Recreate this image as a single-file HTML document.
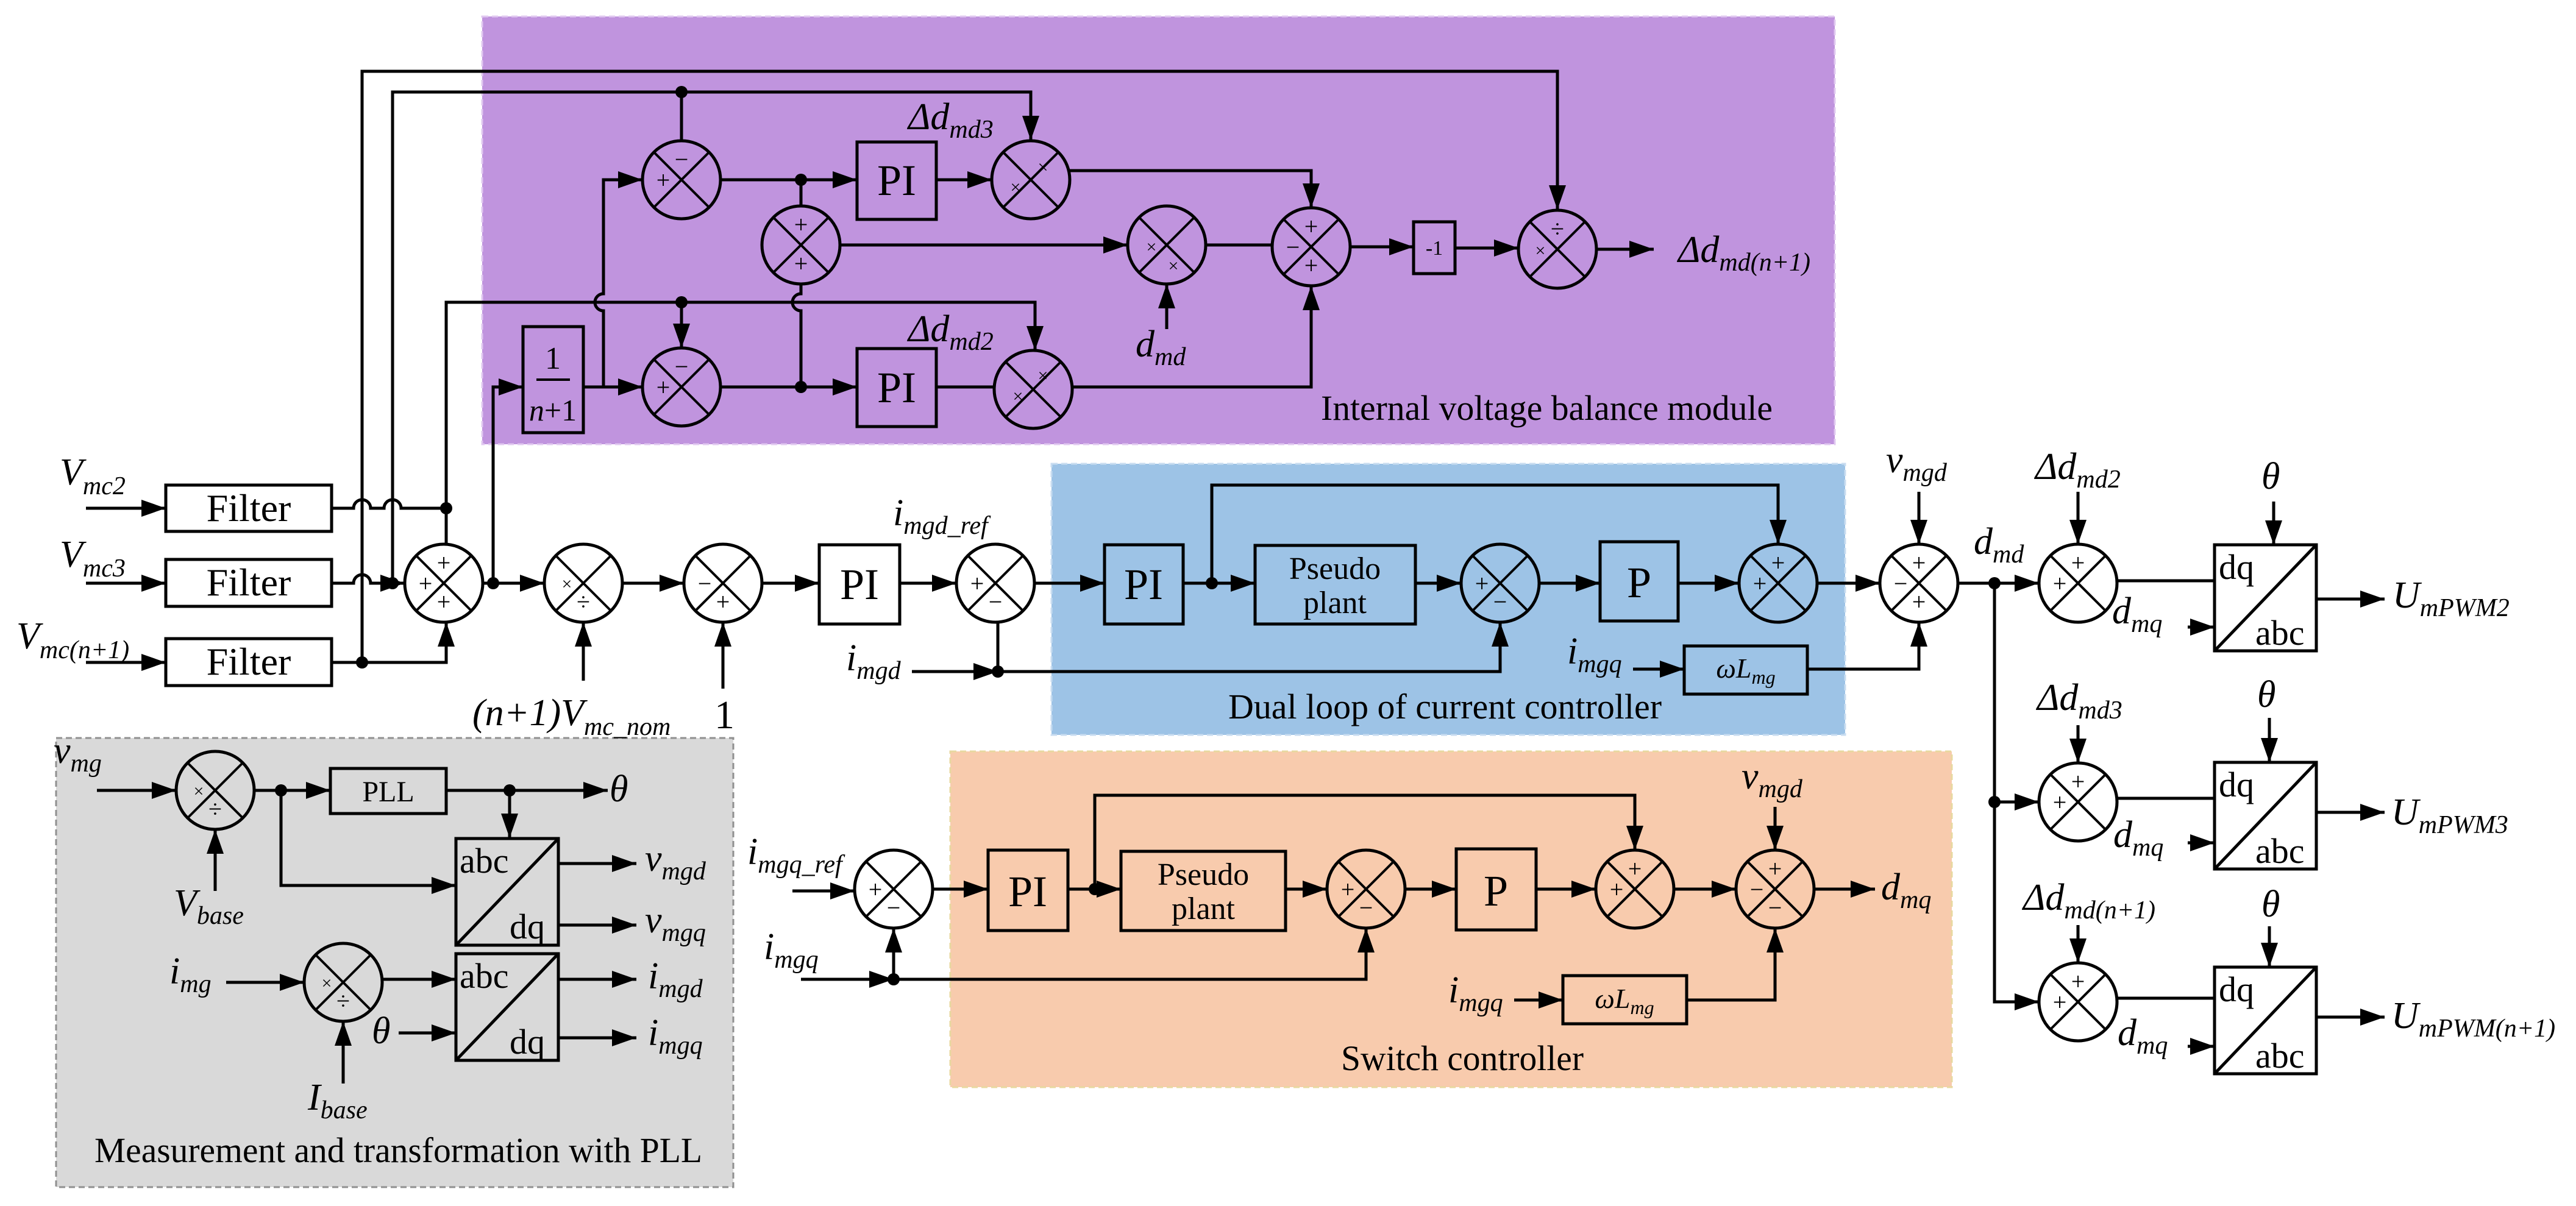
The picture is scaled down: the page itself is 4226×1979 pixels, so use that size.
<!DOCTYPE html>
<html><head><meta charset="utf-8"><style>
html,body{margin:0;padding:0;background:#fff}
svg{display:block}
text{font-family:"Liberation Serif","DejaVu Serif",serif;fill:#000}
.i{font-style:italic}
</style></head><body>
<svg width="4226" height="1979" viewBox="0 0 4226 1979" xmlns="http://www.w3.org/2000/svg" font-family="Liberation Serif, serif">
<defs>
<marker id="a" markerUnits="userSpaceOnUse" markerWidth="40" markerHeight="28" refX="40" refY="14" orient="auto"><path d="M0,0 L40,14 L0,28 z" fill="#000"/></marker>
</defs>
<rect x="791" y="27" width="2219" height="702" fill="#c094de" stroke="#e0c8f0" stroke-width="3" stroke-dasharray="10,6"/>
<rect x="1725" y="761" width="1302" height="445" fill="#9dc3e6" stroke="#c8dcf0" stroke-width="3" stroke-dasharray="10,6"/>
<rect x="1559" y="1233" width="1643" height="551" fill="#f8cbad" stroke="#e8d8a0" stroke-width="3" stroke-dasharray="10,6"/>
<rect x="92" y="1211" width="1111" height="737" fill="#d9d9d9" stroke="#909090" stroke-width="3" stroke-dasharray="10,6"/>

<g fill="none" stroke="#000" stroke-width="5">
<path d="M594,1087 V117 H2555 V344" marker-end="url(#a)"/>
<path d="M644,957 V151 H1691 V230" marker-end="url(#a)"/>
<path d="M1118,151 V231"/>
<path d="M544,834 H580 a14,14 0 0 1 28,0 H630 a14,14 0 0 1 28,0 H732"/>
<path d="M544,957 H580 a14,14 0 0 1 28,0 H664" marker-end="url(#a)"/>
<path d="M544,1087 H732 V1021" marker-end="url(#a)"/>
<path d="M732,895 V496 H1698 V575" marker-end="url(#a)"/>
<path d="M1118,496 V571" marker-end="url(#a)"/>
<path d="M792,957 H893" marker-end="url(#a)"/>
<path d="M809,957 V635 H858" marker-end="url(#a)"/>
<path d="M957,635 H1054" marker-end="url(#a)"/>
<path d="M990,635 V510 a14,14 0 0 1 0,-28 V295 H1054" marker-end="url(#a)"/>
<path d="M1182,295 H1406" marker-end="url(#a)"/>
<path d="M1314,295 V338"/>
<path d="M1536,295 H1627" marker-end="url(#a)"/>
<path d="M1182,635 H1406" marker-end="url(#a)"/>
<path d="M1314,635 V510 a14,14 0 0 1 0,-28 V466"/>
<path d="M1536,635 H1631"/>
<path d="M1378,402 H1850" marker-end="url(#a)"/>
<path d="M1914,540 V466" marker-end="url(#a)"/>
<path d="M1755,280 H2151 V341" marker-end="url(#a)"/>
<path d="M1759,635 H2151 V469" marker-end="url(#a)"/>
<path d="M1978,402 H2087"/>
<path d="M2215,405 H2319" marker-end="url(#a)"/>
<path d="M2387,407 H2491" marker-end="url(#a)"/>
<path d="M2619,409 H2713" marker-end="url(#a)"/>
<path d="M141,834 H272" marker-end="url(#a)"/>
<path d="M141,957 H272" marker-end="url(#a)"/>
<path d="M141,1087 H272" marker-end="url(#a)"/>
<path d="M1021,957 H1122" marker-end="url(#a)"/>
<path d="M957,1117 V1021" marker-end="url(#a)"/>
<path d="M1186,1130 V1021" marker-end="url(#a)"/>
<path d="M1250,957 H1344" marker-end="url(#a)"/>
<path d="M1476,957 H1569" marker-end="url(#a)"/>
<path d="M1697,957 H1812" marker-end="url(#a)"/>
<path d="M1496,1102 H1637" marker-end="url(#a)"/>
<path d="M1637,1102 V1021"/>
<path d="M1637,1102 H2461 V1021" marker-end="url(#a)"/>
<path d="M1941,957 H2059" marker-end="url(#a)"/>
<path d="M1988,957 V796 H2917 V893" marker-end="url(#a)"/>
<path d="M2322,957 H2397" marker-end="url(#a)"/>
<path d="M2525,957 H2625" marker-end="url(#a)"/>
<path d="M2753,957 H2853" marker-end="url(#a)"/>
<path d="M2981,957 H3084" marker-end="url(#a)"/>
<path d="M3148,807 V893" marker-end="url(#a)"/>
<path d="M2679,1098 H2763" marker-end="url(#a)"/>
<path d="M2965,1098 H3148 V1021" marker-end="url(#a)"/>
<path d="M3212,957 H3345" marker-end="url(#a)"/>
<path d="M3272,957 V1644 H3345" marker-end="url(#a)"/>
<path d="M3272,1316 H3345" marker-end="url(#a)"/>
<path d="M3409,807 V893" marker-end="url(#a)"/>
<path d="M3473,953 H3633"/>
<path d="M3589,1029 H3633" marker-end="url(#a)"/>
<path d="M3730,823 V894" marker-end="url(#a)"/>
<path d="M3800,983 H3912" marker-end="url(#a)"/>
<path d="M3409,1190 V1252" marker-end="url(#a)"/>
<path d="M3473,1310 H3633"/>
<path d="M3589,1383 H3633" marker-end="url(#a)"/>
<path d="M3723,1178 V1251" marker-end="url(#a)"/>
<path d="M3800,1333 H3912" marker-end="url(#a)"/>
<path d="M3409,1518 V1580" marker-end="url(#a)"/>
<path d="M3473,1638 H3633"/>
<path d="M3589,1717 H3633" marker-end="url(#a)"/>
<path d="M3723,1520 V1587" marker-end="url(#a)"/>
<path d="M3800,1669 H3912" marker-end="url(#a)"/>
<path d="M1300,1462 H1402" marker-end="url(#a)"/>
<path d="M1314,1607 H1466" marker-end="url(#a)"/>
<path d="M1466,1607 V1523" marker-end="url(#a)"/>
<path d="M1466,1607 H2241 V1523" marker-end="url(#a)"/>
<path d="M1530,1459 H1621" marker-end="url(#a)"/>
<path d="M1752,1459 H1839" marker-end="url(#a)"/>
<path d="M1796,1459 V1305 H2682 V1395" marker-end="url(#a)"/>
<path d="M2109,1459 H2177" marker-end="url(#a)"/>
<path d="M2305,1459 H2389" marker-end="url(#a)"/>
<path d="M2520,1459 H2618" marker-end="url(#a)"/>
<path d="M2746,1459 H2848" marker-end="url(#a)"/>
<path d="M2976,1459 H3076" marker-end="url(#a)"/>
<path d="M2912,1324 V1395" marker-end="url(#a)"/>
<path d="M2484,1641 H2564" marker-end="url(#a)"/>
<path d="M2767,1641 H2912 V1523" marker-end="url(#a)"/>
<path d="M159,1297 H289" marker-end="url(#a)"/>
<path d="M417,1297 H542" marker-end="url(#a)"/>
<path d="M732,1297 H997" marker-end="url(#a)"/>
<path d="M836,1297 V1375" marker-end="url(#a)"/>
<path d="M461,1297 V1453 H748" marker-end="url(#a)"/>
<path d="M916,1417 H1044" marker-end="url(#a)"/>
<path d="M916,1518 H1044" marker-end="url(#a)"/>
<path d="M353,1462 V1361" marker-end="url(#a)"/>
<path d="M371,1612 H499" marker-end="url(#a)"/>
<path d="M627,1607 H748" marker-end="url(#a)"/>
<path d="M563,1778 V1676" marker-end="url(#a)"/>
<path d="M654,1695 H748" marker-end="url(#a)"/>
<path d="M916,1607 H1044" marker-end="url(#a)"/>
<path d="M916,1703 H1044" marker-end="url(#a)"/>
</g>

<g fill="#000">
<circle cx="1118" cy="151" r="10"/><circle cx="1118" cy="496" r="10"/>
<circle cx="594" cy="1087" r="10"/><circle cx="644" cy="957" r="10"/><circle cx="732" cy="834" r="10"/>
<circle cx="809" cy="957" r="10"/><circle cx="1314" cy="295" r="10"/><circle cx="1314" cy="635" r="10"/>
<circle cx="1637" cy="1102" r="10"/><circle cx="1988" cy="957" r="10"/><circle cx="3272" cy="957" r="10"/><circle cx="3272" cy="1316" r="10"/>
<circle cx="1466" cy="1607" r="10"/><circle cx="1796" cy="1459" r="10"/>
<circle cx="461" cy="1297" r="10"/><circle cx="836" cy="1297" r="10"/>
</g>

<g fill="none" stroke="#000" stroke-width="5">
<rect x="272" y="796" width="272" height="76"/><rect x="272" y="918" width="272" height="77"/><rect x="272" y="1048" width="272" height="77"/>
<rect x="858" y="536" width="99" height="174"/>
<rect x="1406" y="233" width="130" height="127"/><rect x="1406" y="572" width="130" height="128"/>
<rect x="2319" y="364" width="68" height="85"/>
<rect x="1344" y="894" width="132" height="130"/><rect x="1812" y="894" width="129" height="130"/>
<rect x="2059" y="895" width="263" height="129"/><rect x="2625" y="889" width="128" height="130"/>
<rect x="2763" y="1060" width="202" height="79"/>
<rect x="3633" y="894" width="167" height="174"/><rect x="3633" y="1251" width="167" height="175"/><rect x="3633" y="1587" width="167" height="175"/>
<rect x="1621" y="1395" width="131" height="132"/><rect x="1839" y="1397" width="270" height="130"/>
<rect x="2389" y="1393" width="131" height="133"/><rect x="2564" y="1601" width="203" height="79"/>
<rect x="542" y="1261" width="190" height="74"/>
<rect x="748" y="1376" width="168" height="175"/><rect x="748" y="1565" width="168" height="175"/>
<path d="M3633,1068 L3800,894 M3633,1426 L3800,1251 M3633,1762 L3800,1587 M748,1551 L916,1376 M748,1740 L916,1565"/>
<path d="M880,623 H935" stroke-width="4"/>
</g>

<g fill="none" stroke="#000" stroke-width="5">
<circle cx="1118" cy="295" r="64"/><circle cx="1314" cy="402" r="64"/><circle cx="1118" cy="635" r="64"/>
<circle cx="1691" cy="295" r="64"/><circle cx="1914" cy="402" r="64"/><circle cx="1695" cy="639" r="64"/>
<circle cx="2151" cy="405" r="64"/><circle cx="2555" cy="409" r="64"/>
<circle cx="728" cy="957" r="64"/><circle cx="957" cy="957" r="64"/><circle cx="1186" cy="957" r="64"/><circle cx="1633" cy="957" r="64"/>
<circle cx="2461" cy="957" r="64"/><circle cx="2917" cy="957" r="64"/><circle cx="3148" cy="957" r="64"/><circle cx="3409" cy="957" r="64"/>
<circle cx="3409" cy="1316" r="64"/><circle cx="3409" cy="1644" r="64"/>
<circle cx="1466" cy="1459" r="64"/><circle cx="2241" cy="1459" r="64"/><circle cx="2682" cy="1459" r="64"/><circle cx="2912" cy="1459" r="64"/>
<circle cx="353" cy="1297" r="64"/><circle cx="563" cy="1612" r="64"/>
<path stroke-width="4" d="
M1073,250 l90,90 m0,-90 l-90,90
M1269,357 l90,90 m0,-90 l-90,90
M1073,590 l90,90 m0,-90 l-90,90
M1646,250 l90,90 m0,-90 l-90,90
M1869,357 l90,90 m0,-90 l-90,90
M1650,594 l90,90 m0,-90 l-90,90
M2106,360 l90,90 m0,-90 l-90,90
M2510,364 l90,90 m0,-90 l-90,90
M683,912 l90,90 m0,-90 l-90,90
M912,912 l90,90 m0,-90 l-90,90
M1141,912 l90,90 m0,-90 l-90,90
M1588,912 l90,90 m0,-90 l-90,90
M2416,912 l90,90 m0,-90 l-90,90
M2872,912 l90,90 m0,-90 l-90,90
M3103,912 l90,90 m0,-90 l-90,90
M3364,912 l90,90 m0,-90 l-90,90
M3364,1271 l90,90 m0,-90 l-90,90
M3364,1599 l90,90 m0,-90 l-90,90
M1421,1414 l90,90 m0,-90 l-90,90
M2196,1414 l90,90 m0,-90 l-90,90
M2637,1414 l90,90 m0,-90 l-90,90
M2867,1414 l90,90 m0,-90 l-90,90
M308,1252 l90,90 m0,-90 l-90,90
M518,1567 l90,90 m0,-90 l-90,90"/>
</g>

<g font-size="40" text-anchor="middle">
<text x="1118" y="275">−</text><text x="1088" y="309">+</text>
<text x="1314" y="382">+</text><text x="1314" y="446">+</text>
<text x="1118" y="615">−</text><text x="1088" y="649">+</text>
<text x="2151" y="385">+</text><text x="2121" y="419">−</text><text x="2151" y="449">+</text>
<text x="728" y="937">+</text><text x="698" y="971">+</text><text x="728" y="1001">+</text>
<text x="1156" y="971">−</text><text x="1186" y="1001">+</text>
<text x="1603" y="971">+</text><text x="1633" y="1001">−</text>
<text x="2431" y="971">+</text><text x="2461" y="1001">−</text>
<text x="2917" y="937">+</text><text x="2887" y="971">+</text>
<text x="3148" y="937">+</text><text x="3118" y="971">−</text><text x="3148" y="1001">+</text>
<text x="3409" y="937">+</text><text x="3379" y="971">+</text>
<text x="3409" y="1296">+</text><text x="3379" y="1330">+</text>
<text x="3409" y="1624">+</text><text x="3379" y="1658">+</text>
<text x="1436" y="1473">+</text><text x="1466" y="1503">−</text>
<text x="2211" y="1473">+</text><text x="2241" y="1503">−</text>
<text x="2682" y="1439">+</text><text x="2652" y="1473">+</text>
<text x="2912" y="1439">+</text><text x="2882" y="1473">−</text><text x="2912" y="1503">−</text>
<text x="2555" y="389">÷</text><text x="957" y="1001">÷</text><text x="353" y="1341">÷</text><text x="563" y="1656">÷</text>
</g>
<g font-size="30" text-anchor="middle">
<text x="1711" y="284" fill="#555">×</text><text x="1666" y="317" fill="#555">×</text>
<text x="1889" y="415" fill="#555">×</text><text x="1925" y="446" fill="#555">×</text>
<text x="1711" y="626" fill="#555">×</text><text x="1670" y="660" fill="#555">×</text>
<text x="2527" y="421" fill="#555">×</text><text x="930" y="968" fill="#555">×</text>
<text x="326" y="1308" fill="#555">×</text><text x="536" y="1623" fill="#555">×</text>
</g>

<g text-anchor="middle">
<text x="408" y="855" font-size="64">Filter</text><text x="408" y="977" font-size="64">Filter</text><text x="408" y="1107" font-size="64">Filter</text>
<text x="907" y="605" font-size="52">1</text><text x="907" y="690" font-size="50"><tspan class="i">n</tspan>+1</text>
<text x="1471" y="320" font-size="72">PI</text><text x="1471" y="660" font-size="72">PI</text>
<text x="2353" y="418" font-size="34">-1</text>
<text x="1410" y="983" font-size="72">PI</text><text x="1876" y="983" font-size="72">PI</text>
<text x="2190" y="950" font-size="52">Pseudo</text><text x="2190" y="1006" font-size="52">plant</text>
<text x="2689" y="980" font-size="72">P</text>
<text x="2864" y="1112" font-size="46" class="i">ωL<tspan font-size="32" dy="10">mg</tspan></text>
<text x="1686" y="1487" font-size="72">PI</text>
<text x="1974" y="1452" font-size="52">Pseudo</text><text x="1974" y="1508" font-size="52">plant</text>
<text x="2454" y="1486" font-size="72">P</text>
<text x="2665" y="1654" font-size="46" class="i">ωL<tspan font-size="32" dy="10">mg</tspan></text>
<text x="637" y="1315" font-size="48">PLL</text>
</g>
<g font-size="58">
<text x="3640" y="950">dq</text><text x="3700" y="1058">abc</text>
<text x="3640" y="1307">dq</text><text x="3700" y="1416">abc</text>
<text x="3640" y="1643">dq</text><text x="3700" y="1752">abc</text>
<text x="754" y="1432">abc</text><text x="836" y="1540">dq</text>
<text x="754" y="1621">abc</text><text x="836" y="1729">dq</text>
</g>

<g font-size="62" class="i">
<text x="98" y="795">V<tspan font-size="42" dy="16">mc2</tspan></text>
<text x="98" y="930">V<tspan font-size="42" dy="16">mc3</tspan></text>
<text x="27" y="1064">V<tspan font-size="42" dy="16">mc(n+1)</tspan></text>
<text x="775" y="1190">(n+1)V<tspan font-size="42" dy="16">mc_nom</tspan></text>
<text x="1465" y="862">i<tspan font-size="42" dy="14">mgd_ref</tspan></text>
<text x="1388" y="1100">i<tspan font-size="42" dy="14">mgd</tspan></text>
<text x="1490" y="212">Δd<tspan font-size="42" dy="14">md3</tspan></text>
<text x="1490" y="560">Δd<tspan font-size="42" dy="14">md2</tspan></text>
<text x="1863" y="585">d<tspan font-size="42" dy="14">md</tspan></text>
<text x="2753" y="430">Δd<tspan font-size="42" dy="14">md(n+1)</tspan></text>
<text x="3094" y="775">v<tspan font-size="42" dy="14">mgd</tspan></text>
<text x="3339" y="786">Δd<tspan font-size="42" dy="14">md2</tspan></text>
<text x="3710" y="802">θ</text>
<text x="3238" y="909">d<tspan font-size="42" dy="14">md</tspan></text>
<text x="2571" y="1089">i<tspan font-size="42" dy="14">mgq</tspan></text>
<text x="3465" y="1023">d<tspan font-size="42" dy="14">mq</tspan></text>
<text x="3925" y="997">U<tspan font-size="42" dy="14">mPWM2</tspan></text>
<text x="3342" y="1165">Δd<tspan font-size="42" dy="14">md3</tspan></text>
<text x="3703" y="1160">θ</text>
<text x="3467" y="1390">d<tspan font-size="42" dy="14">mq</tspan></text>
<text x="3923" y="1353">U<tspan font-size="42" dy="14">mPWM3</tspan></text>
<text x="3319" y="1493">Δd<tspan font-size="42" dy="14">md(n+1)</tspan></text>
<text x="3710" y="1504">θ</text>
<text x="3474" y="1715">d<tspan font-size="42" dy="14">mq</tspan></text>
<text x="3923" y="1687">U<tspan font-size="42" dy="14">mPWM(n+1)</tspan></text>
<text x="2857" y="1294">v<tspan font-size="42" dy="14">mgd</tspan></text>
<text x="3086" y="1476">d<tspan font-size="42" dy="14">mq</tspan></text>
<text x="2376" y="1645">i<tspan font-size="42" dy="14">mgq</tspan></text>
<text x="1226" y="1418">i<tspan font-size="42" dy="14">mgq_ref</tspan></text>
<text x="1253" y="1574">i<tspan font-size="42" dy="14">mgq</tspan></text>
<text x="88" y="1252">v<tspan font-size="42" dy="14">mg</tspan></text>
<text x="285" y="1502">V<tspan font-size="42" dy="14">base</tspan></text>
<text x="1000" y="1315">θ</text>
<text x="1058" y="1429">v<tspan font-size="42" dy="14">mgd</tspan></text>
<text x="1058" y="1530">v<tspan font-size="42" dy="14">mgq</tspan></text>
<text x="278" y="1614">i<tspan font-size="42" dy="14">mg</tspan></text>
<text x="610" y="1712">θ</text>
<text x="505" y="1821">I<tspan font-size="42" dy="14">base</tspan></text>
<text x="1063" y="1622">i<tspan font-size="42" dy="14">mgd</tspan></text>
<text x="1063" y="1715">i<tspan font-size="42" dy="14">mgq</tspan></text>
</g>
<text x="1172" y="1195" font-size="66">1</text>
<g font-size="58">
<text x="2167" y="689" textLength="741" lengthAdjust="spacingAndGlyphs">Internal voltage balance module</text>
<text x="2015" y="1179" textLength="711" lengthAdjust="spacingAndGlyphs">Dual loop of current controller</text>
<text x="2200" y="1756" textLength="398" lengthAdjust="spacingAndGlyphs">Switch controller</text>
<text x="155" y="1907" textLength="997" lengthAdjust="spacingAndGlyphs">Measurement and transformation with PLL</text>
</g>
</svg>
</body></html>
